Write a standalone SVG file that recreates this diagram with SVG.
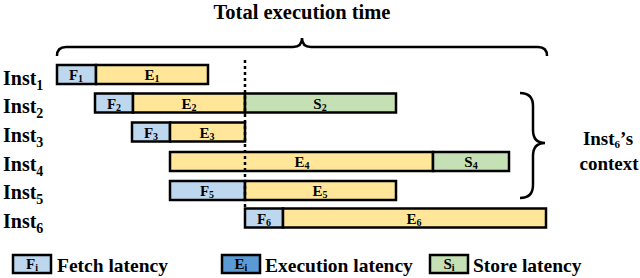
<svg xmlns="http://www.w3.org/2000/svg" width="640" height="278" viewBox="0 0 640 278">
<style>
text{font-family:"Liberation Serif","Times New Roman",serif;font-weight:bold;fill:#000}
.b{stroke:#000;stroke-width:2.5}
.f{fill:#bdd7ee}
.e{fill:#ffe699}
.s{fill:#c5e0b4}
.eb{fill:#5b9bd5}
.bl{font-size:15px;text-anchor:middle}
.sub{font-size:10px}
.lab{font-size:20px}
.ls{font-size:14px}
.leg{font-size:19.5px}
.br{fill:none;stroke:#000;stroke-width:2.5}
</style>
<rect width="640" height="278" fill="#fff"/>
<text x="302" y="19" font-size="20.5" text-anchor="middle">Total execution time</text>

<g id="inst1">
<text class="lab" x="3" y="85">Inst<tspan class="ls" dy="5">1</tspan></text>
<rect class="b f" x="57" y="65" width="39" height="19"/>
<rect class="b e" x="96" y="65" width="112" height="19"/>
<text class="bl" x="76" y="80">F<tspan class="sub" dy="2">1</tspan></text>
<text class="bl" x="152" y="80">E<tspan class="sub" dy="2">1</tspan></text>
</g>
<g id="inst2">
<text class="lab" x="3" y="113">Inst<tspan class="ls" dy="5">2</tspan></text>
<rect class="b f" x="95" y="93.5" width="38" height="19"/>
<rect class="b e" x="133" y="93.5" width="112" height="19"/>
<rect class="b s" x="245" y="93.5" width="151" height="19"/>
<text class="bl" x="114" y="108.5">F<tspan class="sub" dy="2">2</tspan></text>
<text class="bl" x="189" y="108.5">E<tspan class="sub" dy="2">2</tspan></text>
<text class="bl" x="320" y="108.5">S<tspan class="sub" dy="2">2</tspan></text>
</g>
<g id="inst3">
<text class="lab" x="3" y="142">Inst<tspan class="ls" dy="5">3</tspan></text>
<rect class="b f" x="132" y="122.5" width="38" height="19"/>
<rect class="b e" x="170" y="122.5" width="75" height="19"/>
<text class="bl" x="151" y="137.5">F<tspan class="sub" dy="2">3</tspan></text>
<text class="bl" x="207" y="137.5">E<tspan class="sub" dy="2">3</tspan></text>
</g>
<g id="inst4">
<text class="lab" x="3" y="171">Inst<tspan class="ls" dy="5">4</tspan></text>
<rect class="b e" x="170" y="152" width="263" height="19"/>
<rect class="b s" x="433" y="152" width="76" height="19"/>
<text class="bl" x="302" y="167">E<tspan class="sub" dy="2">4</tspan></text>
<text class="bl" x="471" y="167">S<tspan class="sub" dy="2">4</tspan></text>
</g>
<g id="inst5">
<text class="lab" x="3" y="199">Inst<tspan class="ls" dy="5">5</tspan></text>
<rect class="b f" x="170" y="181" width="75" height="19"/>
<rect class="b e" x="245" y="181" width="151" height="19"/>
<text class="bl" x="207" y="196">F<tspan class="sub" dy="2">5</tspan></text>
<text class="bl" x="320" y="196">E<tspan class="sub" dy="2">5</tspan></text>
</g>
<g id="inst6">
<text class="lab" x="3" y="228">Inst<tspan class="ls" dy="5">6</tspan></text>
<rect class="b f" x="245" y="208.5" width="38" height="19"/>
<rect class="b e" x="283" y="208.5" width="263" height="19"/>
<text class="bl" x="264" y="223.5">F<tspan class="sub" dy="2">6</tspan></text>
<text class="bl" x="414" y="223.5">E<tspan class="sub" dy="2">6</tspan></text>
</g>

<g id="connectors">
<line x1="245" y1="60" x2="245" y2="208" stroke="#000" stroke-width="2.5" stroke-dasharray="3,3"/>
<path class="br" d="M57,56 Q57,47 66,47 L293,47 Q302,47 302,38 Q302,47 311,47 L538,47 Q547,47 547,56"/>
<path class="br" d="M520,93 Q533,93 533,106 L533,130 Q533,143 545,143 Q533,143 533,156 L533,185 Q533,198 520,198"/>
</g>

<g id="context">
<text x="608" y="145" font-size="19" text-anchor="middle">Inst<tspan font-size="11" dy="3">6</tspan><tspan dy="-3">’s</tspan></text>
<text x="609" y="170" font-size="19" text-anchor="middle">context</text>
</g>

<g id="legend">
<rect class="b f" x="13" y="255" width="38" height="18"/>
<text class="bl" x="32" y="269">F<tspan class="sub" dy="2">i</tspan></text>
<text class="leg" x="57" y="272">Fetch latency</text>
<rect class="b eb" x="222" y="255" width="38" height="18"/>
<text class="bl" x="241" y="269">E<tspan class="sub" dy="2">i</tspan></text>
<text class="leg" x="265" y="272">Execution latency</text>
<rect class="b s" x="430" y="255" width="38" height="18"/>
<text class="bl" x="449" y="269">S<tspan class="sub" dy="2">i</tspan></text>
<text class="leg" x="473" y="272">Store latency</text>
</g>
</svg>
